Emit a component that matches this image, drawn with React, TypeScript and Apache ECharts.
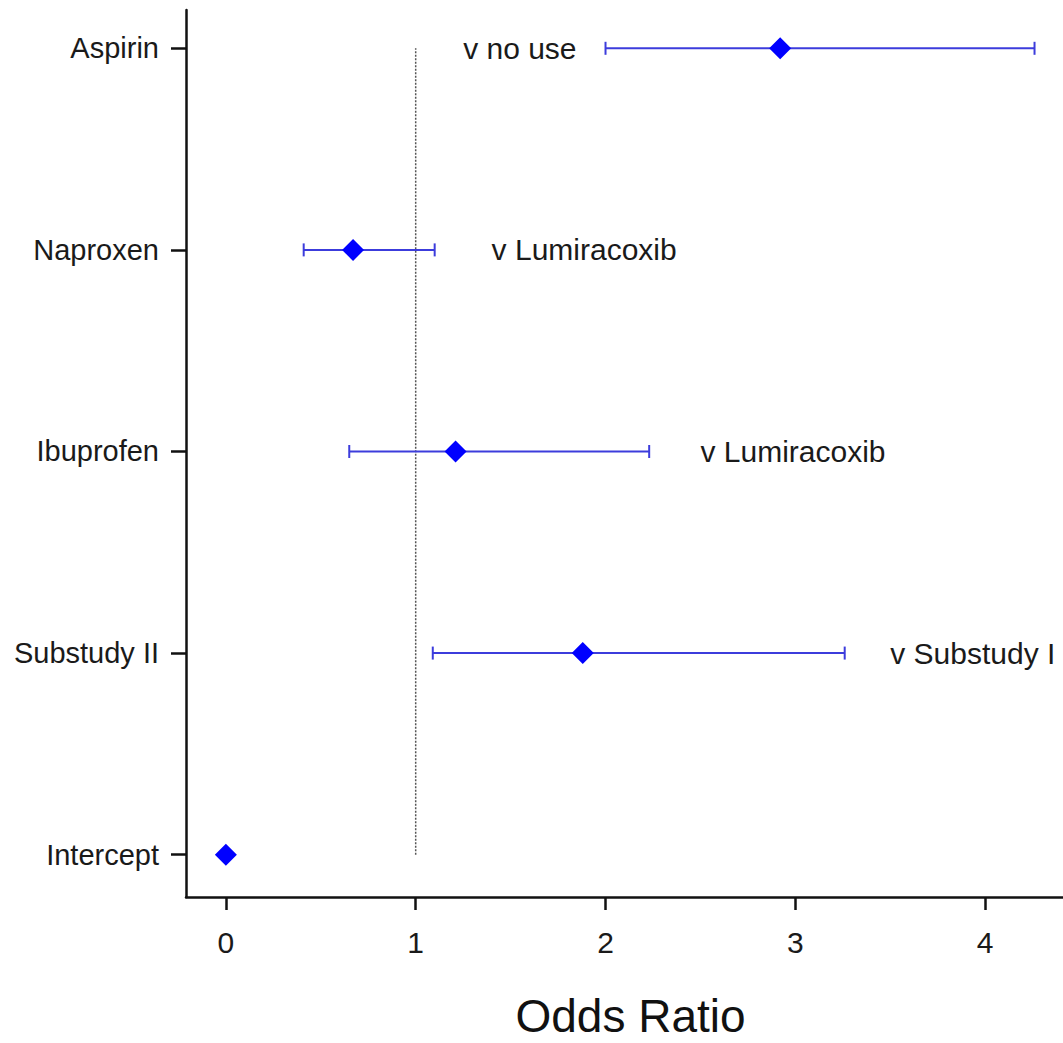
import React, { useEffect, useRef } from "react";
import * as echarts from "echarts";

// Rows from bottom (index 0) to top (index 4)
const categories = ["Intercept", "Substudy II", "Ibuprofen", "Naproxen", "Aspirin"];
const oddsRatios = [0, 1.88, 1.21, 0.67, 2.92];
const lowerCI: (number | null)[] = [null, 1.09, 0.65, 0.41, 2.0];
const upperCI: (number | null)[] = [null, 3.26, 2.23, 1.1, 4.26];
const comparisons = ["", "v Substudy I", "v Lumiracoxib", "v Lumiracoxib", "v no use"];
const comparisonAnchor: (number | null)[] = [null, 3.5, 2.5, 1.4, 1.25];
const xTicks = [0, 1, 2, 3, 4];
const referenceOR = 1;

const FONT = "'Liberation Sans', Arial, Helvetica, sans-serif";

export default function App() {
  const ref = useRef<HTMLDivElement>(null);

  useEffect(() => {
    if (!ref.current) return;
    const chart = echarts.init(ref.current, null, { renderer: "svg" });

    const rowIdx = categories.map((_, i) => i);
    const errData = rowIdx
      .filter((i) => lowerCI[i] != null && upperCI[i] != null)
      .map((i) => [lowerCI[i], upperCI[i], i]);
    const pointData = rowIdx.map((i) => [oddsRatios[i], i]);
    const annData = rowIdx
      .filter((i) => comparisonAnchor[i] != null)
      .map((i) => [comparisonAnchor[i], i, comparisons[i]]);

    const option: any = {
      animation: false,
      backgroundColor: "#ffffff",
      grid: {
        left: 186,
        right: 0,
        top: 10,
        bottom: 146,
        containLabel: false,
        outerBoundsMode: "none",
      },
      xAxis: {
        type: "value",
        min: -0.21,
        max: 4.41,
        name: "Odds Ratio",
        nameLocation: "middle",
        nameGap: 97,
        nameTextStyle: {
          fontSize: 46,
          lineHeight: 44,
          color: "#111",
          fontFamily: FONT,
          padding: [0, 0, 0, 12],
        },
        axisLine: { show: true, onZero: false, lineStyle: { color: "#111", width: 2.5 } },
        axisTick: {
          show: true,
          customValues: xTicks,
          length: 13,
          lineStyle: { color: "#111", width: 2.5 },
        },
        axisLabel: {
          customValues: xTicks,
          fontSize: 30,
          color: "#1a1a1a",
          fontFamily: FONT,
          margin: 30,
        },
        splitLine: { show: false },
      },
      yAxis: {
        type: "value",
        min: -0.21,
        max: 4.19,
        axisLine: { show: true, onZero: false, lineStyle: { color: "#111", width: 2.5 } },
        axisTick: {
          show: true,
          customValues: rowIdx,
          length: 15,
          lineStyle: { color: "#111", width: 2.5 },
        },
        axisLabel: {
          customValues: rowIdx,
          formatter: (v: number) => categories[Math.round(v)] ?? "",
          fontSize: 29,
          color: "#1a1a1a",
          fontFamily: FONT,
          margin: 27,
        },
        splitLine: { show: false },
      },
      series: [
        {
          type: "line",
          data: [
            [referenceOR, 0],
            [referenceOR, categories.length - 1],
          ],
          symbol: "none",
          lineStyle: { color: "#555", width: 1.5, type: [2, 1.5] },
          z: 1,
          silent: true,
        },
        {
          type: "custom",
          data: errData,
          encode: { x: [0, 1], y: 2 },
          z: 2,
          renderItem: (params: any, api: any) => {
            const lo = api.coord([api.value(0), api.value(2)]);
            const hi = api.coord([api.value(1), api.value(2)]);
            const cap = 6.5;
            const style = { stroke: "#3c3cdc", lineWidth: 2, fill: "none" };
            return {
              type: "group",
              children: [
                { type: "line", shape: { x1: lo[0], y1: lo[1], x2: hi[0], y2: hi[1] }, style },
                { type: "line", shape: { x1: lo[0], y1: lo[1] - cap, x2: lo[0], y2: lo[1] + cap }, style },
                { type: "line", shape: { x1: hi[0], y1: hi[1] - cap, x2: hi[0], y2: hi[1] + cap }, style },
              ],
            };
          },
        },
        {
          type: "scatter",
          data: pointData,
          symbol: "diamond",
          symbolSize: 22,
          itemStyle: { color: "#0000ff", opacity: 1 },
          z: 3,
        },
        {
          type: "custom",
          data: annData,
          encode: { x: 0, y: 1 },
          z: 4,
          renderItem: (params: any, api: any) => {
            const p = api.coord([api.value(0), api.value(1)]);
            return {
              type: "text",
              x: p[0],
              y: p[1],
              style: {
                text: annData[params.dataIndex][2] as string,
                fontSize: 30,
                fontFamily: FONT,
                fill: "#1a1a1a",
                align: "left",
                verticalAlign: "middle",
              },
            };
          },
        },
      ],
    };

    chart.setOption(option);
    return () => chart.dispose();
  }, []);

  return (
    <div
      ref={ref}
      style={{ position: "fixed", left: 0, top: 0, width: 1063, height: 1043, background: "#fff" }}
    />
  );
}
